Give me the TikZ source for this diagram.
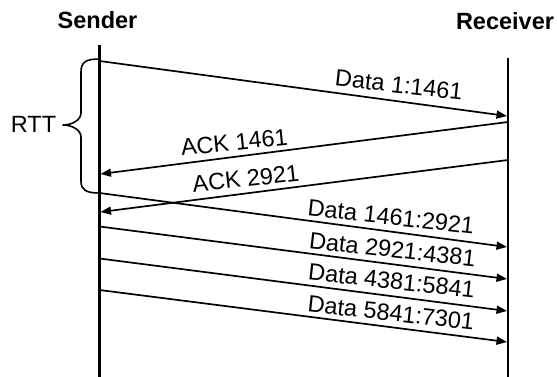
\documentclass[tikz,border=0pt]{standalone}
\usepackage{fontspec}
\setmainfont{Liberation Sans}
\usetikzlibrary{arrows.meta}
\begin{document}
\begin{tikzpicture}[x=1pt,y=-1pt,
  msg/.style={line width=1.7pt,-{Triangle[length=10.5pt,width=8pt]}},
  life/.style={line width=2.2pt},
  bracestyle/.style={line width=1.6pt,line cap=round,line join=round},
  lab/.style={inner sep=0pt,font=\fontsize{23.5}{27}\selectfont},
  head/.style={inner sep=0pt,font=\fontsize{23.5}{27}\selectfont\bfseries}]
\useasboundingbox (0,0) rectangle (557,377);
% headers
\node[head] (snd) at (97.5,20.5) {Sender};
\node[head] (rcv) at (505,21.5) {Receiver};
% lifelines
\coordinate (sTop) at (99.5,45);
\coordinate (sBot) at (99.5,377);
\coordinate (rTop) at (508,58);
\coordinate (rBot) at (508,377);
\draw[life] (sTop) -- (sBot);
\draw[life] (rTop) -- (rBot);
% message end points
\coordinate (d1s) at (99.5,61);    \coordinate (d1r) at (507,116);
\coordinate (a1r) at (508,122);    \coordinate (a1s) at (100.5,174);
\coordinate (a2r) at (508,160);    \coordinate (a2s) at (100.5,212);
\coordinate (d2s) at (99.5,193);   \coordinate (d2r) at (507,247);
\coordinate (d3s) at (99.5,226.5); \coordinate (d3r) at (507,279);
\coordinate (d4s) at (99.5,258.5); \coordinate (d4r) at (507,311);
\coordinate (d5s) at (99.5,290);   \coordinate (d5r) at (507,342);
% messages
\draw[msg] (d1s) -- (d1r);
\draw[msg] (a1r) -- (a1s);
\draw[msg] (a2r) -- (a2s);
\draw[msg] (d2s) -- (d2r);
\draw[msg] (d3s) -- (d3r);
\draw[msg] (d4s) -- (d4r);
\draw[msg] (d5s) -- (d5r);
% labels
\node[lab,rotate=-6.4] (l1) at (399,85) {Data 1:1461};
\node[lab,rotate=6.0] (l2) at (234.2,142.3) {ACK 1461};
\node[lab,rotate=6.3] (l3) at (245.8,178.6) {ACK 2921};
\node[lab,rotate=-6.4] (l4) at (391,216.8) {Data 1461:2921};
\node[lab,rotate=-6.4] (l5) at (392.5,249.5) {Data 2921:4381};
\node[lab,rotate=-6.4] (l6) at (391.7,281) {Data 4381:5841};
\node[lab,rotate=-6.4] (l7) at (391,313) {Data 5841:7301};
% brace
\coordinate (bTop) at (99.5,59);
\coordinate (bTip) at (63,125);
\coordinate (bBot) at (99.5,193);
\draw[bracestyle] (bTop) .. controls (86,59) and (81,62) .. (81,72)
  -- (81,113) .. controls (81,120) and (72,125) .. (bTip)
  .. controls (72,125) and (81,130) .. (81,137)
  -- (81,181) .. controls (81,190) and (86,193) .. (bBot);
\node[lab] (rtt) at (33.5,124.5) {RTT};
\end{tikzpicture}
\end{document}
